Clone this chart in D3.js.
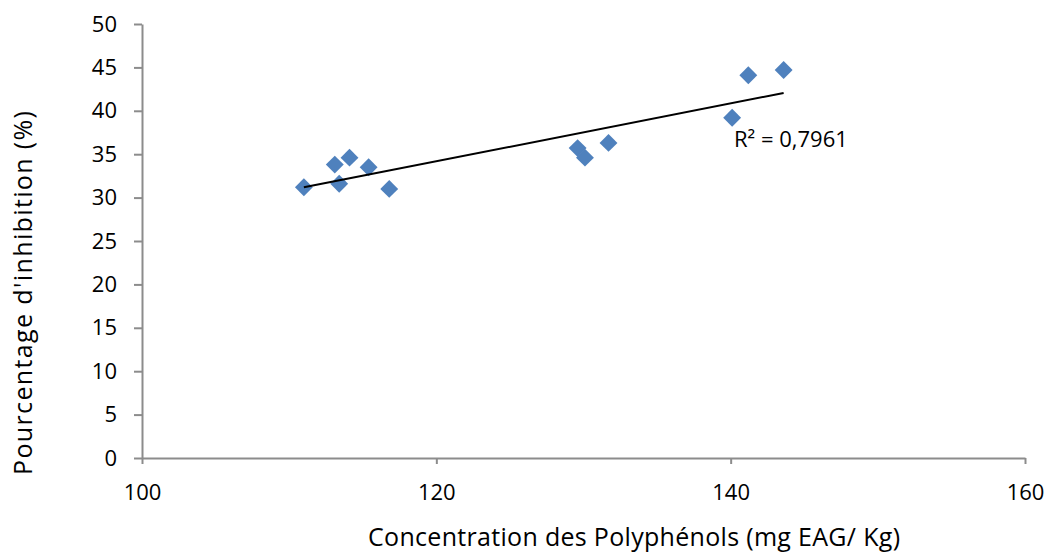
<!DOCTYPE html>
<html>
<head>
<meta charset="utf-8">
<script src="https://cdn.jsdelivr.net/npm/d3@7"></script>
<style>
  body { margin: 0; background: #fff; }
  text { font-family: "Open Sans", "Liberation Sans", sans-serif; fill: #000; }
</style>
</head>
<body>
<svg id="chart" width="1047" height="556"></svg>
<script>
// polyphenol concentration (mg EAG/Kg) vs inhibition (%)
var concentration = [111.0, 113.1, 114.1, 113.4, 115.4, 116.8, 129.6, 130.1, 131.7, 140.1, 141.2, 143.6];
var inhibition = [31.2, 33.8, 34.6, 31.6, 33.5, 31.0, 35.7, 34.6, 36.3, 39.2, 44.1, 44.7];
var xTicks = [100, 120, 140, 160];
var yTicks = [0, 5, 10, 15, 20, 25, 30, 35, 40, 45, 50];
var r2Label = "R² = 0,7961";

var svg = d3.select("#chart");

var x = d3.scaleLinear().domain([100, 160]).range([142, 1025]);
var y = d3.scaleLinear().domain([0, 50]).range([458, 24]);

var points = concentration.map(function (c, i) { return { x: c, y: inhibition[i] }; });

// axes
var yAxis = svg.append("g")
  .attr("transform", "translate(142,0)")
  .call(d3.axisLeft(y).tickValues(yTicks).tickSize(8).tickSizeOuter(0).tickPadding(17));

var xAxis = svg.append("g")
  .attr("transform", "translate(0,458)")
  .call(d3.axisBottom(x).tickValues(xTicks).tickSize(6).tickSizeOuter(0).tickPadding(20));

[yAxis, xAxis].forEach(function (a) {
  a.select(".domain").attr("stroke", "#8c8c8c").attr("stroke-width", 2);
  a.selectAll(".tick line").attr("stroke", "#8c8c8c").attr("stroke-width", 2);
  a.selectAll(".tick text").attr("font-size", 22).style("font-family", "'Open Sans', sans-serif").attr("fill", "#000");
});

// markers
svg.append("g")
  .selectAll("path")
  .data(points)
  .enter().append("path")
  .attr("d", d3.symbol().type(d3.symbolSquare).size(160))
  .attr("transform", function (d) { return "translate(" + x(d.x) + "," + y(d.y) + ") rotate(45)"; })
  .attr("fill", "#4f81bd");

// linear trend (least squares from the points)
var mx = d3.mean(concentration), my = d3.mean(inhibition);
var sxy = d3.sum(points, function (d) { return (d.x - mx) * (d.y - my); });
var sxx = d3.sum(points, function (d) { return (d.x - mx) * (d.x - mx); });
var slope = sxy / sxx, icpt = my - slope * mx;
var xExt = d3.extent(concentration);

svg.append("line")
  .attr("x1", x(xExt[0])).attr("y1", y(icpt + slope * xExt[0]))
  .attr("x2", x(xExt[1])).attr("y2", y(icpt + slope * xExt[1]))
  .attr("stroke", "#000").attr("stroke-width", 2);

svg.append("text")
  .attr("x", 734).attr("y", 147)
  .attr("font-size", 22)
  .text(r2Label);

// titles
svg.append("text")
  .attr("x", 634).attr("y", 546)
  .attr("text-anchor", "middle")
  .attr("font-size", 25)
  .attr("textLength", 532)
  .text("Concentration des Polyphénols (mg EAG/ Kg)");

svg.append("text")
  .attr("transform", "translate(32,293) rotate(-90)")
  .attr("text-anchor", "middle")
  .attr("font-size", 25)
  .attr("textLength", 364)
  .text("Pourcentage d'inhibition (%)");
</script>
</body>
</html>
